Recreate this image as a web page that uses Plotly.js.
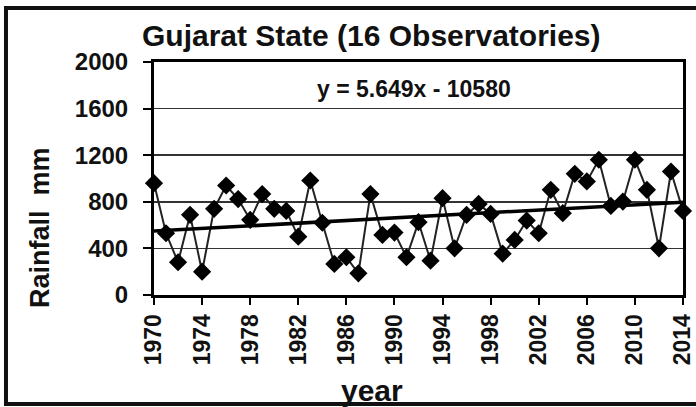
<!DOCTYPE html>
<html>
<head>
<meta charset="utf-8">
<script src="https://cdn.plot.ly/plotly-3.0.1.min.js"></script>
<style>html,body{margin:0;padding:0;background:#fff;}#chart{width:696px;height:407px;}</style>
</head>
<body>
<div id="chart"></div>
<script>
const years = [1970,1971,1972,1973,1974,1975,1976,1977,1978,1979,1980,1981,1982,1983,1984,1985,1986,1987,1988,1989,1990,1991,1992,1993,1994,1995,1996,1997,1998,1999,2000,2001,2002,2003,2004,2005,2006,2007,2008,2009,2010,2011,2012,2013,2014];
const rainfall = [960,530,281,688,200,740,940,823,645,866,740,722,501,983,620,267,324,186,866,516,536,324,625,295,831,401,688,782,696,355,473,639,530,903,702,1040,975,1161,765,802,1161,903,401,1060,722];
const trendYears = [1970, 2014];
const trendValues = [548.5, 797.1];
const tickYears = [1970,1974,1978,1982,1986,1990,1994,1998,2002,2006,2010,2014];
const yTicks = [0,400,800,1200,1600,2000];
const titleText = "Gujarat State (16 Observatories)";
const equationText = "y = 5.649x - 10580";
const xTitle = "year";
const yTitle = "Rainfall  mm";

const F = "Arial, 'Liberation Sans', sans-serif";

const data = [
  {x: years, y: rainfall, type: 'scatter', mode: 'lines+markers',
   line: {color: '#222', width: 2},
   marker: {symbol: 'diamond', size: 14, color: '#000'},
   cliponaxis: false, hoverinfo: 'skip'},
  {x: trendYears, y: trendValues, type: 'scatter', mode: 'lines',
   line: {color: '#000', width: 3.5}, hoverinfo: 'skip'}
];

const layout = {
  width: 696, height: 407,
  margin: {l: 154, r: 13, t: 62, b: 112},
  paper_bgcolor: '#fff', plot_bgcolor: '#fff',
  showlegend: false,
  font: {family: F, color: '#000'},
  xaxis: {
    range: [1970, 2014], tickvals: tickYears, ticktext: tickYears.map(String),
    tickangle: -90, ticks: 'outside', ticklen: 7, tickwidth: 2, tickcolor: '#000',
    tickfont: {family: F, size: 23, weight: 'bold', color: '#111'},
    showgrid: false, zeroline: false,
    showline: true, linecolor: '#000', linewidth: 3, mirror: true
  },
  yaxis: {
    range: [0, 2000], tickvals: yTicks, ticktext: yTicks.map(String),
    ticks: 'outside', ticklen: 8, tickwidth: 2, tickcolor: '#000',
    tickfont: {family: F, size: 24, weight: 'bold', color: '#111'},
    ticklabelstandoff: 10,
    showgrid: true, gridcolor: '#333', gridwidth: 1.5,
    zeroline: false,
    showline: true, linecolor: '#000', linewidth: 3, mirror: true
  },
  shapes: [
    {type: 'rect', xref: 'paper', yref: 'paper',
     x0: -0.2798, x1: 1.04, y0: -0.4678, y1: 1.2318,
     line: {color: '#111', width: 4}}
  ],
  annotations: [
    {text: titleText, xref: 'paper', yref: 'paper', x: 0.412, y: 1.112,
     xanchor: 'center', yanchor: 'middle', showarrow: false,
     font: {family: F, size: 30, weight: 'bold', color: '#111'}},
    {text: equationText, xref: 'paper', yref: 'paper', x: 0.4915, y: 0.884,
     xanchor: 'center', yanchor: 'middle', showarrow: false,
     font: {family: F, size: 23, weight: 'bold', color: '#111'}},
    {text: yTitle, xref: 'paper', yref: 'paper', x: -0.2155, y: 0.2876,
     xanchor: 'center', yanchor: 'middle', showarrow: false, textangle: -90,
     font: {family: F, size: 27, weight: 'bold', color: '#111'}},
    {text: xTitle, xref: 'paper', yref: 'paper', x: 0.412, y: -0.412,
     xanchor: 'center', yanchor: 'middle', showarrow: false,
     font: {family: F, size: 30, weight: 'bold', color: '#111'}}
  ]
};

Plotly.newPlot('chart', data, layout, {staticPlot: true, displayModeBar: false});
</script>
</body>
</html>
